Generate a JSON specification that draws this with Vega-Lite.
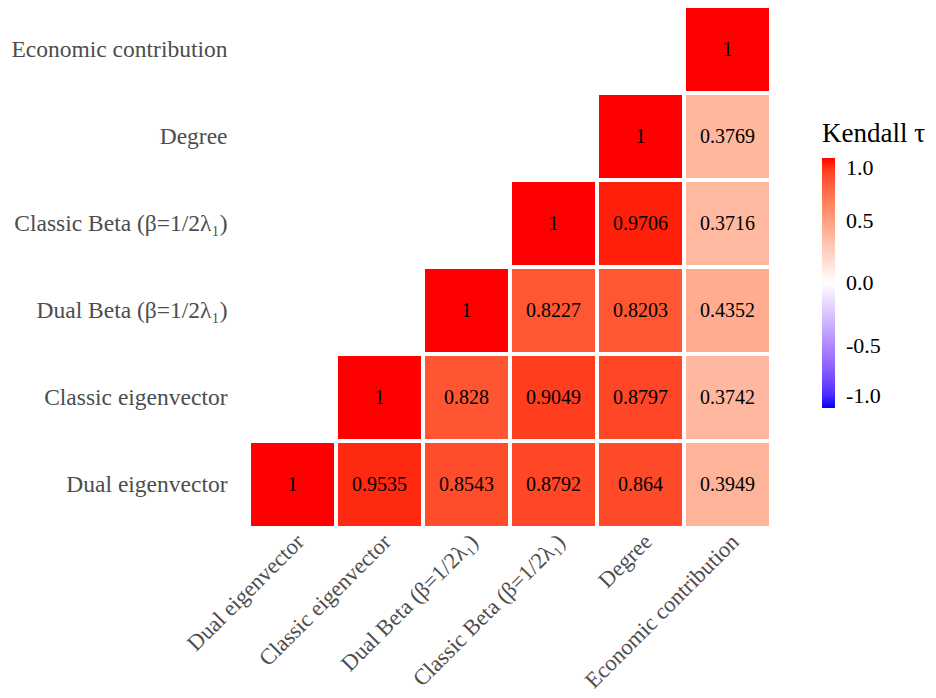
{
  "$schema": "https://vega.github.io/schema/vega-lite/v6.json",
  "width": 522,
  "height": 522,
  "autosize": "none",
  "padding": {"left": 249, "top": 6, "right": 165, "bottom": 170},
  "background": "white",
  "config": {
    "view": {"stroke": null},
    "font": "Liberation Serif"
  },
  "data": {
    "values": [
      {"x": "Dual eigenvector", "y": "Dual eigenvector", "v": 1},
      {"x": "Classic eigenvector", "y": "Dual eigenvector", "v": 0.9535},
      {"x": "Dual Beta (β=1/2λ₁)", "y": "Dual eigenvector", "v": 0.8543},
      {"x": "Classic Beta (β=1/2λ₁)", "y": "Dual eigenvector", "v": 0.8792},
      {"x": "Degree", "y": "Dual eigenvector", "v": 0.864},
      {"x": "Economic contribution", "y": "Dual eigenvector", "v": 0.3949},
      {"x": "Classic eigenvector", "y": "Classic eigenvector", "v": 1},
      {"x": "Dual Beta (β=1/2λ₁)", "y": "Classic eigenvector", "v": 0.828},
      {"x": "Classic Beta (β=1/2λ₁)", "y": "Classic eigenvector", "v": 0.9049},
      {"x": "Degree", "y": "Classic eigenvector", "v": 0.8797},
      {"x": "Economic contribution", "y": "Classic eigenvector", "v": 0.3742},
      {"x": "Dual Beta (β=1/2λ₁)", "y": "Dual Beta (β=1/2λ₁)", "v": 1},
      {"x": "Classic Beta (β=1/2λ₁)", "y": "Dual Beta (β=1/2λ₁)", "v": 0.8227},
      {"x": "Degree", "y": "Dual Beta (β=1/2λ₁)", "v": 0.8203},
      {"x": "Economic contribution", "y": "Dual Beta (β=1/2λ₁)", "v": 0.4352},
      {"x": "Classic Beta (β=1/2λ₁)", "y": "Classic Beta (β=1/2λ₁)", "v": 1},
      {"x": "Degree", "y": "Classic Beta (β=1/2λ₁)", "v": 0.9706},
      {"x": "Economic contribution", "y": "Classic Beta (β=1/2λ₁)", "v": 0.3716},
      {"x": "Degree", "y": "Degree", "v": 1},
      {"x": "Economic contribution", "y": "Degree", "v": 0.3769},
      {"x": "Economic contribution", "y": "Economic contribution", "v": 1}
    ]
  },
  "encoding": {
    "x": {
      "field": "x", "type": "nominal",
      "sort": ["Dual eigenvector", "Classic eigenvector", "Dual Beta (β=1/2λ₁)", "Classic Beta (β=1/2λ₁)", "Degree", "Economic contribution"],
      "scale": {"paddingInner": 0, "paddingOuter": 0},
      "axis": {"title": null, "domain": false, "ticks": false, "labelAngle": -45, "labelAlign": "right", "labelBaseline": "top", "labelPadding": 2, "labelFontSize": 22.5, "labelColor": "#4d4d4d", "labelFont": "Liberation Serif", "labelLimit": 400}
    },
    "y": {
      "field": "y", "type": "nominal",
      "sort": ["Economic contribution", "Degree", "Classic Beta (β=1/2λ₁)", "Dual Beta (β=1/2λ₁)", "Classic eigenvector", "Dual eigenvector"],
      "scale": {"paddingInner": 0, "paddingOuter": 0},
      "axis": {"title": null, "domain": false, "ticks": false, "labelPadding": 22, "labelFontSize": 23.5, "labelColor": "#4d4d4d", "labelFont": "Liberation Serif", "labelLimit": 400}
    }
  },
  "layer": [
    {
      "mark": {"type": "rect", "stroke": "white", "strokeWidth": 4},
      "encoding": {
        "color": {
          "field": "v", "type": "quantitative",
          "scale": {"domain": [-1, 1], "domainMid": 0, "range": ["blue", "white", "red"], "interpolate": "lab"},
          "legend": {
            "title": "Kendall τ", "titleFontSize": 27, "titleFontWeight": "normal", "titleFont": "Liberation Serif", "titleColor": "black", "titlePadding": 10,
            "labelFontSize": 22, "labelFont": "Liberation Serif", "labelColor": "black", "labelOffset": 11,
            "labelExpr": "replace(format(datum.value, '.1f'), '−', '-')",
            "gradientLength": 250, "gradientThickness": 13,
            "values": [-1, -0.5, 0, 0.5, 1],
            "direction": "vertical", "orient": "none", "legendX": 573, "legendY": 115
          }
        }
      }
    },
    {
      "mark": {"type": "text", "fontSize": 20, "color": "black", "font": "Liberation Serif"},
      "encoding": {"text": {"field": "v", "type": "nominal"}}
    }
  ]
}
